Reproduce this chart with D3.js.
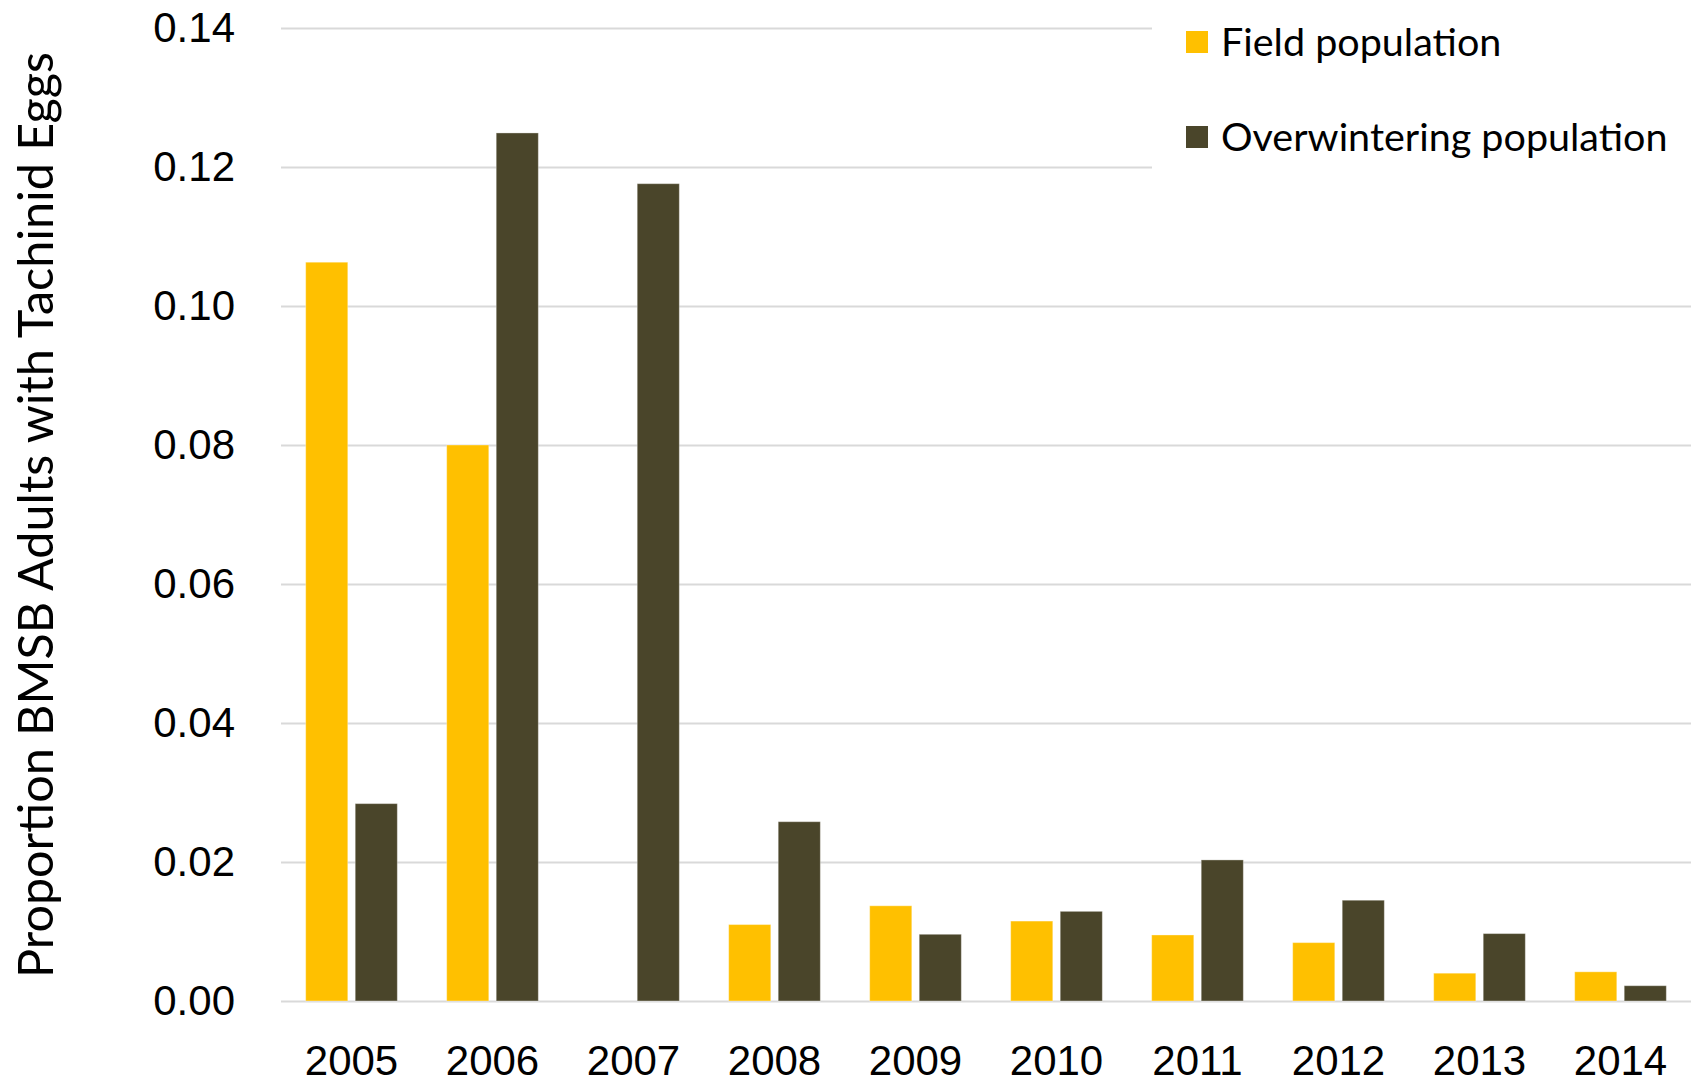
<!DOCTYPE html>
<html>
<head>
<meta charset="utf-8">
<script src="https://cdn.jsdelivr.net/npm/d3@7"></script>
<style>
  body { margin: 0; background: #fff; }
  svg { display: block; font-family: Lato, "Open Sans", sans-serif; }
</style>
</head>
<body>
<svg></svg>
<script>
let years = ['2005', '2006', '2007', '2008', '2009', '2010', '2011', '2012', '2013', '2014'];
let seriesNames = ['Field population', 'Overwintering population'];
let fieldValues = [0.1063, 0.0800, 0, 0.0110, 0.0137, 0.0115, 0.0095, 0.0084, 0.0040, 0.0042];
let overwinterValues = [0.0284, 0.1249, 0.1176, 0.0258, 0.0096, 0.0129, 0.0203, 0.0145, 0.0097, 0.0022];
let yTicks = [0, 0.02, 0.04, 0.06, 0.08, 0.10, 0.12, 0.14];
let colors = ['#FFC000', '#4A452A'];

let w = 1694;
let h = 1083;
let plotLeft = 281, plotRight = 1691, plotTop = 28, plotBottom = 1001;
let svg = d3.select('svg');
let xScale, xInner, yScale;

let setCanvas = () => {
    svg.attr('width', w).attr('height', h);
}

let setScale = () => {
    xScale = d3.scaleBand()
        .domain(years)
        .range([plotLeft, plotRight])
        .paddingInner(0.35)
        .paddingOuter(0.175);
    xInner = d3.scaleBand()
        .domain(seriesNames)
        .range([0, xScale.bandwidth()])
        .paddingInner(0.15);
    yScale = d3.scaleLinear()
        .domain([0, 0.14])
        .range([plotBottom, plotTop]);
}

let setAxes = () => {
    let yAxis = d3.axisLeft(yScale)
        .tickValues(yTicks)
        .tickFormat(d3.format('.2f'))
        .tickSize(-(plotRight - plotLeft))
        .tickPadding(46);
    let gy = svg.append('g')
        .attr('id', 'y-axis')
        .attr('transform', 'translate(' + plotLeft + ', 0)')
        .call(yAxis);
    gy.select('.domain').remove();
    gy.selectAll('.tick line')
        .attr('stroke', '#d9d9d9')
        .attr('stroke-width', 2);
    gy.selectAll('.tick text')
        .attr('font-size', 42)
        .attr('fill', '#000');

    let xAxis = d3.axisBottom(xScale)
        .tickSize(0)
        .tickPadding(44);
    let gx = svg.append('g')
        .attr('id', 'x-axis')
        .attr('transform', 'translate(0, ' + plotBottom + ')')
        .call(xAxis);
    gx.select('.domain').remove();
    gx.selectAll('.tick text')
        .attr('font-size', 42)
        .attr('fill', '#000');

    // y title
    svg.append('text')
        .attr('transform', 'translate(53, 515) rotate(-90)')
        .attr('text-anchor', 'middle')
        .attr('font-size', 48.5)
        .attr('fill', '#000')
        .text('Proportion BMSB Adults with Tachinid Eggs');
}

let setBars = () => {
    let rows = years.map((y, i) => ({ year: y, values: [fieldValues[i], overwinterValues[i]] }));
    let groups = svg.append('g').selectAll('g')
        .data(rows)
        .enter()
        .append('g')
        .attr('transform', d => 'translate(' + xScale(d.year) + ', 0)');
    groups.selectAll('rect')
        .data(d => d.values.map((v, j) => ({ name: seriesNames[j], value: v, color: colors[j] })).filter(d => d.value > 0))
        .enter()
        .append('rect')
        .attr('x', d => xInner(d.name))
        .attr('width', xInner.bandwidth())
        .attr('y', d => yScale(d.value))
        .attr('height', d => yScale(0) - yScale(d.value))
        .attr('fill', d => d.color)
        .attr('stroke', '#fff')
        .attr('stroke-opacity', 0.35)
        .attr('stroke-width', 1);
}

let setLegend = () => {
    svg.append('rect')
        .attr('x', 1152).attr('y', 0)
        .attr('width', w - 1152).attr('height', 170)
        .attr('fill', '#fff');
    let items = svg.append('g').selectAll('g')
        .data(seriesNames)
        .enter()
        .append('g')
        .attr('transform', (d, i) => 'translate(1186, ' + (31 + i * 95) + ')');
    items.append('rect')
        .attr('width', 22).attr('height', 22)
        .attr('fill', (d, i) => colors[i]);
    items.append('text')
        .attr('x', 35).attr('y', 25)
        .attr('font-size', 39.5)
        .attr('fill', '#000')
        .text(d => d);
}

setCanvas();
setScale();
setAxes();
setBars();
setLegend();
</script>
</body>
</html>
